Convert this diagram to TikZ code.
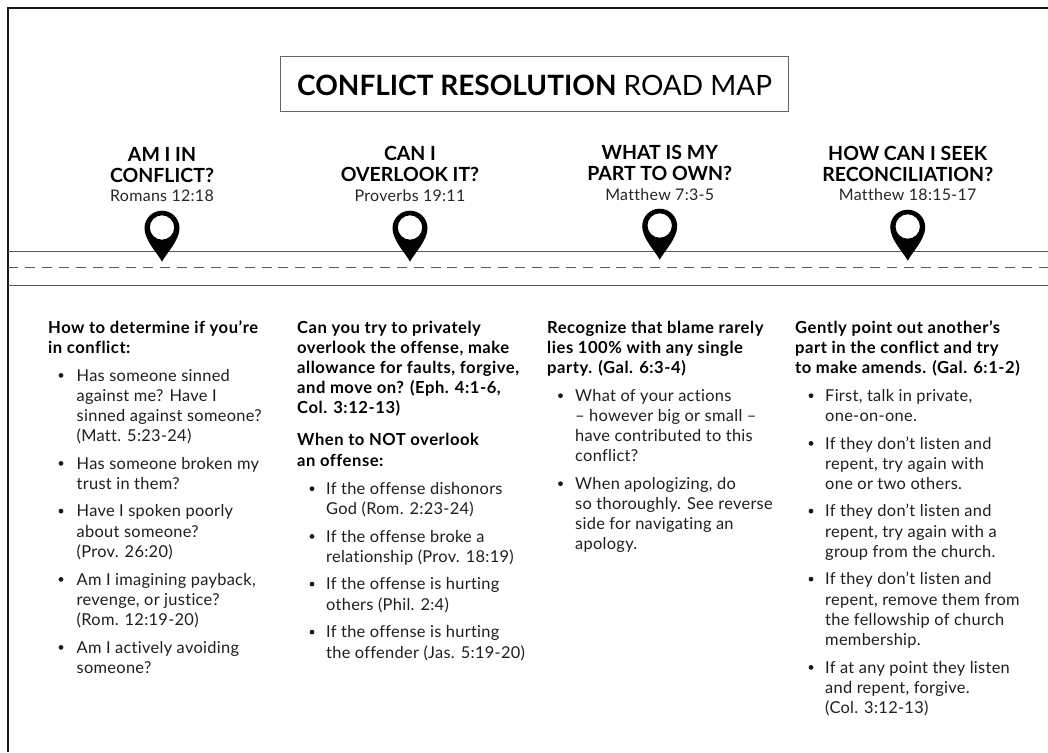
\documentclass[tikz,border=0pt]{standalone}
\usepackage{fontspec}
\setmainfont{Lato}[Ligatures=NoCommon]
\tikzset{
  frameln/.style={line width=2pt,black!90},
  road/.style={line width=1pt,black!65},
  dashroad/.style={line width=1pt,black!65,dash pattern=on 10pt off 6.9pt},
  titlebox/.style={draw=black!60,line width=1pt,minimum width=508.7pt,minimum height=55.4pt,inner sep=0pt},
  head/.style={anchor=north,align=center,inner sep=0pt,font=\fontsize{19.5}{20.8}\selectfont\bfseries},
  refline/.style={anchor=north,inner sep=0pt,text=black!85,font=\fontsize{16}{18}\selectfont\addfontfeature{LetterSpace=1.8}},
  lead/.style={anchor=north west,align=left,inner sep=0pt,font=\fontsize{16.6}{20.1}\selectfont\bfseries\addfontfeature{LetterSpace=3.2}},
  item/.style={anchor=north west,align=left,inner sep=0pt,text=black!88,font=\fontsize{16.4}{20.1}\selectfont\addfontfeature{LetterSpace=1.8}},
  bulletdot/.style={circle,fill=black!90,minimum size=4.8pt,inner sep=0pt},
  pinshape/.pic={
    \fill[black,even odd rule] (0,0) .. controls (-4,-8) and (-17.5,-21) .. (-17.5,-33.5)
      .. controls (-17.5,-43.2) and (-9.7,-51) .. (0,-51)
      .. controls (9.7,-51) and (17.5,-43.2) .. (17.5,-33.5)
      .. controls (17.5,-21) and (4,-8) .. (0,0) -- cycle
      (0,-34.2) circle[radius=12.2];
  },
}
% \headblock{name}{x}{baseline of first line}{heading}
\newcommand{\headblock}[4]{\node[head] (#1) at (#2,#3-15) {\rule{0pt}{15pt}#4};}
% \leadblock{name}{x}{first baseline}{text}
\newcommand{\leadblock}[4]{\node[lead] (#1) at (#2,#3-15) {\rule{0pt}{15pt}#4};}
% \itemblock{name}{bullet x}{text x}{first baseline}{text}
\newcommand{\itemblock}[5]{%
  \node[bulletdot] (#1b) at (#2,#4-5.6) {};
  \node[item] (#1) at (#3,#4-15) {\rule{0pt}{15pt}#5};}
\begin{document}
\begin{tikzpicture}[x=1pt,y=-1pt]
\useasboundingbox (0,0) rectangle (1048,752);
\fill[white] (0,0) rectangle (1048,752);
% frame
\coordinate (ftr) at (1048,8.5);
\coordinate (ftl) at (7.5,8.5);
\coordinate (fbl) at (7.5,752);
\draw[frameln] (ftr) -- (ftl) -- (fbl);
% title
\node[titlebox] (title) at (534.6,84) {};
\node[anchor=base,inner sep=0pt,font=\fontsize{28}{30}\selectfont] (titletext) at (534.6,95)
  {\textbf{CONFLICT RESOLUTION} ROAD MAP};
% road
\coordinate (r1a) at (8,251.7); \coordinate (r1b) at (1048,251.7);
\coordinate (r2a) at (8,267.7); \coordinate (r2b) at (1048,267.7);
\coordinate (r3a) at (8,285);   \coordinate (r3b) at (1048,285);
\draw[road] (r1a) -- (r1b);
\draw[dashroad] (r2a) -- (r2b);
\draw[road] (r3a) -- (r3b);
% pins
\pic at (162,261.7) {pinshape};
\pic at (410,261.7) {pinshape};
\pic at (659.7,259.7) {pinshape};
\pic at (907.7,260.7) {pinshape};
% headings
\headblock{h1}{162}{161.3}{AM I IN\\CONFLICT?}
\node[refline] (rf1) at (162,201.7-15) {\rule{0pt}{15pt}Romans 12:18};
\headblock{h2}{410}{160}{CAN I\\OVERLOOK IT?}
\node[refline] (rf2) at (410,201-15) {\rule{0pt}{15pt}Proverbs 19:11};
\headblock{h3}{659.7}{159.6}{WHAT IS MY\\PART TO OWN?}
\node[refline] (rf3) at (659.7,200.3-15) {\rule{0pt}{15pt}Matthew 7:3-5};
\headblock{h4}{907.7}{160}{HOW CAN I SEEK\\RECONCILIATION?}
\node[refline] (rf4) at (907.7,200.7-15) {\rule{0pt}{15pt}Matthew 18:15-17};
% column 1
\leadblock{l1}{48}{333.3}{How to determine if you’re\\in conflict:}
\itemblock{a1}{61}{76.5}{381}{Has someone sinned\\against me? Have I\\sinned against someone?\\(Matt. 5:23-24)}
\itemblock{a2}{61}{76.5}{469}{Has someone broken my\\trust in them?}
\itemblock{a3}{61}{76.5}{516.7}{Have I spoken poorly\\about someone?\\(Prov. 26:20)}
\itemblock{a4}{61}{76.5}{585}{Am I imagining payback,\\revenge, or justice?\\(Rom. 12:19-20)}
\itemblock{a5}{61}{76.5}{653}{Am I actively avoiding\\someone?}
% column 2
\leadblock{l2}{297}{333.3}{Can you try to privately\\overlook the offense, make\\allowance for faults, forgive,\\and move on? (Eph. 4:1-6,\\Col. 3:12-13)}
\leadblock{l2b}{297}{445.7}{When to NOT overlook\\an offense:}
\itemblock{b1}{312}{326}{494.3}{If the offense dishonors\\God (Rom. 2:23-24)}
\itemblock{b2}{312}{326}{542}{If the offense broke a\\relationship (Prov. 18:19)}
\itemblock{b3}{312}{326}{589.7}{If the offense is hurting\\others (Phil. 2:4)}
\itemblock{b4}{312}{326}{637.7}{If the offense is hurting\\the offender (Jas. 5:19-20)}
% column 3
\leadblock{l3}{547}{333.3}{Recognize that blame rarely\\lies 100\% with any single\\party. (Gal. 6:3-4)}
\itemblock{c1}{560.5}{575}{401.3}{What of your actions\\– however big or small –\\have contributed to this\\conflict?}
\itemblock{c2}{560.5}{575}{489.3}{When apologizing, do\\so thoroughly. See reverse\\side for navigating an\\apology.}
% column 4
\leadblock{l4}{795}{333.3}{Gently point out another’s\\part in the conflict and try\\to make amends. (Gal. 6:1-2)}
\itemblock{d1}{811}{825}{401.3}{First, talk in private,\\one-on-one.}
\itemblock{d2}{811}{825}{449}{If they don’t listen and\\repent, try again with\\one or two others.}
\itemblock{d3}{811}{825}{516.7}{If they don’t listen and\\repent, try again with a\\group from the church.}
\itemblock{d4}{811}{825}{584.7}{If they don’t listen and\\repent, remove them from\\the fellowship of church\\membership.}
\itemblock{d5}{811}{825}{673}{If at any point they listen\\and repent, forgive.\\(Col. 3:12-13)}
\end{tikzpicture}
\end{document}
